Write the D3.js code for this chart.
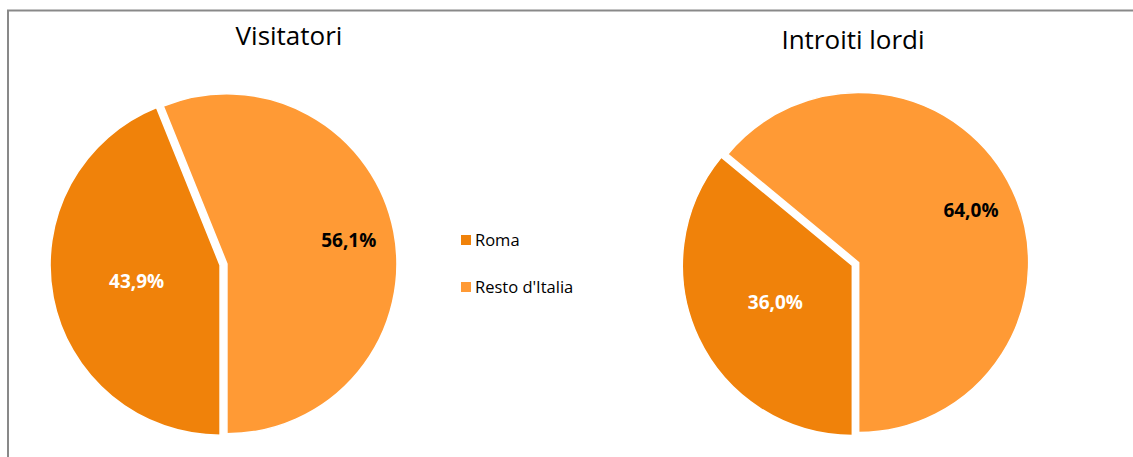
<!DOCTYPE html>
<html>
<head>
<meta charset="utf-8">
<script src="https://cdn.jsdelivr.net/npm/d3@7"></script>
<style>
  body { margin: 0; background: #fff; }
  svg { display: block; font-family: "Open Sans", Lato, sans-serif; }
</style>
</head>
<body>
<svg id="chart" width="1133" height="457"></svg>
<script>
var categories = ["Roma", "Resto d'Italia"];
var visitatori = [43.9, 56.1];
var introiti = [36.0, 64.0];
var titles = ["Visitatori", "Introiti lordi"];
var colors = ["#F0820A", "#FF9A35"];
var labelColors = ["#fff", "#000"];

var svg = d3.select("#chart");

// chart frame (runs off the picture on the right and bottom)
svg.append("rect")
  .attr("x", 8).attr("y", 10.5)
  .attr("width", 1140).attr("height", 470)
  .attr("fill", "none")
  .attr("stroke", "#898989")
  .attr("stroke-width", 2);

var pie = d3.pie().sort(null)
  .startAngle(Math.PI).endAngle(3 * Math.PI);

var radius = 170;
var arc = d3.arc().innerRadius(0).outerRadius(radius);
var explode = 3.5;
// Roma labels sit closer to the centre than Resto labels
var labelFactor = [0.5, 0.73];

function fmt(v) { return v.toFixed(1).replace(".", ",") + "%"; }

function drawPie(values, title, cx, cy, titleX, titleY) {
  svg.append("text")
    .attr("x", titleX).attr("y", titleY)
    .attr("text-anchor", "middle")
    .style("font-size", "26px")
    .style("fill", "#000")
    .text(title);

  var g = svg.append("g").attr("transform", "translate(" + cx + "," + cy + ")");
  var arcs = pie(values);

  arcs.forEach(function(a, i) {
    var mid = (a.startAngle + a.endAngle) / 2;
    var dx = Math.sin(mid) * explode, dy = -Math.cos(mid) * explode;
    g.append("path")
      .attr("transform", "translate(" + dx + "," + dy + ")")
      .attr("d", arc(a))
      .attr("fill", colors[i])
      .attr("stroke", "#fff")
      .attr("stroke-width", 1.5);

    var lr = radius * labelFactor[i];
    g.append("text")
      .attr("x", dx + Math.sin(mid) * lr)
      .attr("y", dy - Math.cos(mid) * lr)
      .attr("text-anchor", "middle")
      .attr("dominant-baseline", "central")
      .style("font-size", "19px")
      .style("font-weight", "bold")
      .style("fill", labelColors[i])
      .text(fmt(a.data));
  });
}

drawPie(visitatori, titles[0], 223.5, 264.5, 289, 45);
drawPie(introiti, titles[1], 855.5, 264, 853, 49);

// legend
var legend = svg.append("g");
categories.forEach(function(c, i) {
  var y = 235 + i * 47;
  legend.append("rect")
    .attr("x", 461).attr("y", y)
    .attr("width", 10).attr("height", 10)
    .attr("fill", colors[i]);
  legend.append("text")
    .attr("x", 475).attr("y", y + 11)
    .style("font-size", "16.5px")
    .style("fill", "#000")
    .text(c);
});
</script>
</body>
</html>
